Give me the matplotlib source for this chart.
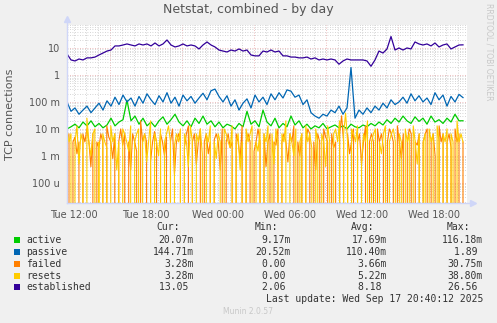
import numpy as np
import matplotlib.pyplot as plt
from matplotlib.patches import Rectangle

# vreme u satima od Tue 12:00 (prvi uzorak ~11:25, poslednji ~20:25)
t_start = -7 / 12.0
t_end = 389 / 12.0

active = [0.010, 0.012, 0.015, 0.011, 0.018, 0.013, 0.020, 0.012, 0.016, 0.011,
          0.014, 0.025, 0.013, 0.018, 0.022, 0.116, 0.020, 0.030, 0.015, 0.025,
          0.013, 0.018, 0.012, 0.020, 0.028, 0.015, 0.022, 0.035, 0.018, 0.013,
          0.020, 0.012, 0.025, 0.016, 0.030, 0.015, 0.020, 0.012, 0.018, 0.011,
          0.015, 0.013, 0.010, 0.016, 0.012, 0.045, 0.015, 0.020, 0.012, 0.050,
          0.018, 0.013, 0.025, 0.011, 0.016, 0.012, 0.030, 0.014, 0.020, 0.011,
          0.015, 0.010, 0.013, 0.011, 0.016, 0.010, 0.012, 0.014, 0.011, 0.013,
          0.010, 0.015, 0.012, 0.011, 0.014, 0.012, 0.016, 0.013, 0.018, 0.014,
          0.022, 0.016, 0.025, 0.018, 0.030, 0.020, 0.016, 0.028, 0.019, 0.025,
          0.015, 0.030, 0.018, 0.022, 0.016, 0.025, 0.018, 0.035, 0.020, 0.0201]

passive = [0.10, 0.045, 0.06, 0.035, 0.05, 0.07, 0.04, 0.06, 0.09, 0.05,
           0.11, 0.07, 0.15, 0.08, 0.18, 0.10, 0.14, 0.07, 0.16, 0.09,
           0.20, 0.12, 0.08, 0.17, 0.10, 0.22, 0.09, 0.15, 0.07, 0.18,
           0.11, 0.16, 0.09, 0.14, 0.21, 0.12, 0.26, 0.30, 0.16, 0.10,
           0.17, 0.07, 0.12, 0.05, 0.09, 0.13, 0.06, 0.18, 0.10, 0.15,
           0.08, 0.20, 0.12, 0.22, 0.14, 0.28, 0.25, 0.15, 0.18, 0.08,
           0.12, 0.04, 0.03, 0.025, 0.035, 0.03, 0.05, 0.04, 0.07, 0.035,
           0.06, 1.89, 0.025, 0.05, 0.035, 0.06, 0.04, 0.07, 0.05, 0.09,
           0.06, 0.12, 0.08, 0.10, 0.15, 0.09, 0.20, 0.11, 0.17, 0.10,
           0.14, 0.08, 0.22, 0.12, 0.18, 0.07, 0.16, 0.10, 0.19, 0.145]

# failed i resets u m (1e-3), gusce uzorkovano
failed = np.array([3.3, 6.6, 0, 3.3, 5.0, 1.2, 3.3, 0, 6.6, 3.3,
                   10, 3.3, 0.4, 6.6, 0, 3.3, 2.0, 6.6, 3.3, 0,
                   13, 5.0, 3.3, 0.8, 6.6, 0, 3.3, 10, 2.5, 6.6,
                   0, 3.3, 0.3, 6.6, 3.3, 1.5, 0, 20, 3.3, 6.6,
                   3.3, 0, 0.6, 3.3, 8.0, 3.3, 0, 6.6, 3.3, 1.0,
                   5.0, 0, 3.3, 10, 0.2, 3.3, 6.6, 3.3, 0, 2.0,
                   6.6, 13, 0, 3.3, 6.6, 0.5, 3.3, 10, 0, 3.3,
                   6.6, 1.2, 3.3, 0, 4.0, 6.6, 3.3, 0.3, 10, 0,
                   3.3, 6.6, 2.0, 3.3, 0, 6.6, 3.3, 0.8, 13, 0,
                   3.3, 6.6, 3.3, 0, 1.5, 3.3, 10, 3.3, 0, 6.6,
                   0.4, 3.3, 6.6, 0, 3.3, 2.5, 10, 0, 3.3, 6.6,
                   3.3, 0.6, 6.6, 3.3, 13, 0, 3.3, 1.0, 6.6, 0,
                   3.3, 10, 6.6, 0, 3.3, 0.3, 6.6, 3.3, 0, 10,
                   5.0, 3.3, 0, 6.6, 2.0, 3.3, 0, 6.6, 30.75, 3.3,
                   0, 6.6, 1.2, 3.3, 10, 0, 3.3, 6.6, 0.5, 3.3,
                   13, 0, 3.3, 6.6, 3.3, 0, 10, 3.3, 6.6, 2.0,
                   0, 3.3, 10, 6.6, 3.3, 0, 13, 3.3, 0.8, 6.6,
                   0, 3.3, 10, 6.6, 0, 3.3, 2.5, 6.6, 0, 3.3,
                   6.6, 10, 0, 3.3, 6.6, 1.0, 0, 13, 3.3, 6.6,
                   0, 3.3, 6.6, 2.0, 0, 10, 3.3, 6.6, 0, 3.28]) * 1e-3

resets = np.array([10, 3.3, 6.6, 0, 3.3, 13, 0.5, 6.6, 3.3, 0,
                   25, 3.3, 1.0, 6.6, 10, 0, 3.3, 0, 6.6, 3.3,
                   2.0, 0, 13, 3.3, 6.6, 0.3, 3.3, 0, 10, 6.6,
                   3.3, 1.5, 13, 0, 3.3, 6.6, 10, 0, 3.3, 6.6,
                   0.6, 3.3, 20, 0, 6.6, 3.3, 1.0, 10, 0, 3.3,
                   6.6, 13, 3.3, 0, 2.5, 6.6, 3.3, 10, 0, 6.6,
                   3.3, 0.4, 13, 3.3, 0, 6.6, 3.3, 10, 1.2, 0,
                   6.6, 3.3, 13, 0, 3.3, 0.8, 6.6, 3.3, 0, 10,
                   6.6, 3.3, 2.0, 13, 0, 3.3, 6.6, 0.3, 3.3, 0,
                   10, 3.3, 6.6, 13, 0, 3.3, 1.5, 10, 0, 6.6,
                   3.3, 13, 0, 6.6, 0.5, 10, 3.3, 0, 6.6, 3.3,
                   20, 0, 6.6, 3.3, 1.0, 10, 0, 3.3, 6.6, 0,
                   13, 3.3, 6.6, 2.0, 0, 10, 3.3, 0, 6.6, 3.3,
                   0.4, 13, 3.3, 0, 6.6, 10, 3.3, 20, 0, 6.6,
                   38.8, 3.3, 0, 10, 6.6, 3.3, 13, 0, 0.6, 6.6,
                   3.3, 20, 0, 3.3, 6.6, 10, 0, 3.3, 1.2, 6.6,
                   13, 0, 3.3, 6.6, 10, 3.3, 0, 6.6, 3.3, 0,
                   10, 3.3, 6.6, 0, 13, 3.3, 0.5, 6.6, 0, 3.3,
                   6.6, 0, 10, 3.3, 6.6, 0, 13, 3.3, 0, 6.6,
                   3.3, 10, 0, 6.6, 3.3, 0, 20, 3.3, 6.6, 3.28]) * 1e-3

established = [6.0, 3.6, 3.3, 3.9, 3.6, 4.3, 4.3, 4.6, 5.5, 6.5,
               7.7, 8.4, 11.9, 11.9, 12.9, 14.1, 12.9, 11.9, 14.1, 12.9,
               14.1, 11.9, 15.3, 11.9, 14.1, 19.8, 12.9, 10.9, 11.9, 14.1,
               11.9, 12.9, 11.9, 9.2, 12.9, 16.7, 12.9, 10.9, 8.4, 7.7,
               7.1, 8.4, 7.7, 9.2, 7.7, 8.4, 5.5, 5.1, 5.1, 7.7,
               7.1, 8.4, 7.1, 7.7, 5.1, 5.1, 4.6, 4.6, 4.3, 4.3,
               4.6, 3.9, 4.3, 3.6, 3.9, 3.6, 3.9, 3.6, 2.5, 3.3,
               3.9, 3.6, 3.6, 3.6, 3.6, 3.3, 2.1, 3.6, 7.7, 6.5,
               9.2, 26.6, 8.4, 10.0, 8.4, 10.0, 9.2, 16.7, 14.1, 12.9,
               14.1, 11.9, 15.3, 10.9, 12.9, 14.1, 9.2, 10.9, 12.9, 13.05]

names = ['active', 'passive', 'failed', 'resets', 'established']
colors = ['#00CC00', '#0066B3', '#FF8000', '#FFCC00', '#330099']
cur = ['20.07m', '144.71m', '3.28m', '3.28m', '13.05 ']
mins = ['9.17m', '20.52m', '0.00 ', '0.00 ', '2.06 ']
avgs = ['17.69m', '110.40m', '3.66m', '5.22m', '8.18 ']
maxs = ['116.18m', '1.89 ', '30.75m', '38.80m', '26.56 ']

xtick_pos = [0, 6, 12, 18, 24, 30]
xtick_lab = ['Tue 12:00', 'Tue 18:00', 'Wed 00:00', 'Wed 06:00', 'Wed 12:00', 'Wed 18:00']
ytick_pos = [1e-4, 1e-3, 1e-2, 1e-1, 1, 10]
ytick_lab = ['100 u', '1 m', '10 m', '100 m', '1', '10']

W, H = 497, 323
fig = plt.figure(figsize=(W / 100, H / 100), dpi=100, facecolor='#F0F0F0')
ax = fig.add_axes([67 / W, 1 - 203 / H, 400 / W, 178 / H])
ax.set_facecolor('white')
ax.set_yscale('log')
ax.set_xlim(-7 / 12.0, 32.75)
ax.set_ylim(1.8e-5, 71)

# mreza
for h in range(0, 33):
    if (h - 3) % 6 == 0:
        ax.axvline(h, color='#E8A8A8', lw=0.6, ls=(0, (1, 2)), zorder=1)
    else:
        ax.axvline(h, color='#C8C8C8', lw=0.6, ls=(0, (1, 2)), zorder=1)
for d in range(-5, 2):
    for m in range(1, 10):
        v = m * 10.0 ** d
        if v < 1.8e-5 or v > 71:
            continue
        if m == 1:
            ax.axhline(v, color='#E8A8A8', lw=0.6, ls=(0, (1, 2)), zorder=1)
        else:
            ax.axhline(v, color='#C8C8C8', lw=0.6, ls=(0, (1, 2)), zorder=1)

series = [active, passive, failed, resets, established]
widths = [0.9, 0.9, 0.8, 0.8, 0.9]
for s, c, w in zip(series, colors, widths):
    t = np.linspace(t_start, t_end, len(s))
    ax.plot(t, s, color=c, lw=w, zorder=3)

ax.set_xticks(xtick_pos)
ax.set_xticklabels(xtick_lab)
ax.set_yticks(ytick_pos)
ax.set_yticklabels(ytick_lab)
ax.minorticks_off()
ax.tick_params(length=0, labelsize=7, colors='#555555', pad=5)
for sp in ax.spines.values():
    sp.set_visible(False)

# ose sa strelicama
axis_c = '#CFD6F8'
ax.plot([0, 0], [0, 1.035], transform=ax.transAxes, color=axis_c, lw=1, clip_on=False, zorder=4)
ax.plot([0], [1.035], transform=ax.transAxes, marker='^', ms=4, color=axis_c, clip_on=False, zorder=4)
ax.plot([0, 1.015], [0, 0], transform=ax.transAxes, color=axis_c, lw=1, clip_on=False, zorder=4)
ax.plot([1.015], [0], transform=ax.transAxes, marker='>', ms=4, color=axis_c, clip_on=False, zorder=4)

fig.text(248 / W, 1 - 10 / H, 'Netstat, combined - by day', ha='center', va='center',
         fontsize=9, color='#555555')
fig.text(10 / W, 1 - 114 / H, 'TCP connections', ha='center', va='center',
         rotation=90, fontsize=8, color='#555555')
fig.text(489 / W, 1 - 52 / H, 'RRDTOOL / TOBI OETIKER', ha='center', va='center',
         rotation=270, fontsize=5.5, color='#C8C8C8')

mono = 'DejaVu Sans Mono'
txt = '#333333'
hy = 1 - 227 / H
for x, h in zip([180, 278, 374, 470], ['Cur:', 'Min:', 'Avg:', 'Max:']):
    fig.text(x / W, hy, h, ha='right', va='center', family=mono, fontsize=7, color=txt)

rows_y = [240, 252, 264, 276, 287]
for i in range(5):
    y = 1 - rows_y[i] / H
    fig.patches.append(Rectangle((14 / W, y - 3 / H), 6 / W, 6 / H, transform=fig.transFigure,
                                 facecolor=colors[i], edgecolor='none'))
    fig.text(26 / W, y, names[i], ha='left', va='center', family=mono, fontsize=7, color=txt)
    for x, col in zip([194, 291, 387, 483], [cur, mins, avgs, maxs]):
        fig.text(x / W, y, col[i], ha='right', va='center', family=mono, fontsize=7, color=txt)

fig.text(483 / W, 1 - 299 / H, 'Last update: Wed Sep 17 20:40:12 2025', ha='right', va='center',
         family=mono, fontsize=7, color=txt)
fig.text(248 / W, 1 - 312 / H, 'Munin 2.0.57', ha='center', va='center',
         fontsize=5.5, color='#C8C8C8')

fig.savefig('out.png', dpi=100, facecolor=fig.get_facecolor())
